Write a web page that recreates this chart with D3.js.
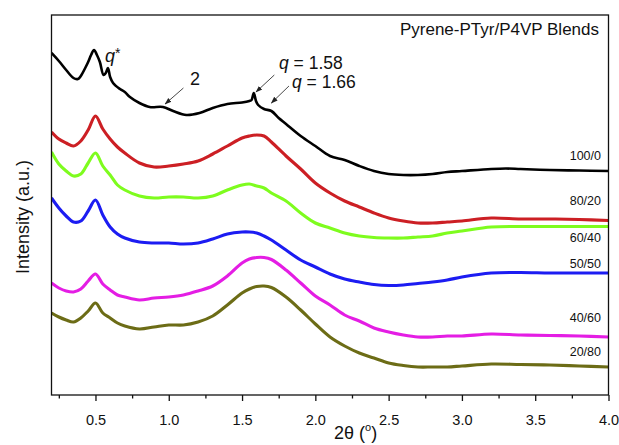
<!DOCTYPE html>
<html>
<head>
<meta charset="utf-8">
<script src="https://cdn.jsdelivr.net/npm/d3@7/dist/d3.min.js"></script>
<style>
  html, body { margin: 0; padding: 0; background: #fff; }
  svg { display: block; font-family: "Liberation Sans", Arial, Helvetica, sans-serif; }
</style>
</head>
<body>
<svg id="chart" width="619" height="445"></svg>
<script>
// 2θ grid (degrees) shared by the blend curves
const twoTheta = [0.20,0.25,0.30,0.35,0.40,0.45,0.50,0.55,0.60,0.65,0.70,0.80,0.90,1.00,1.10,1.20,1.30,1.40,1.50,1.55,1.60,1.65,1.70,1.80,1.90,2.00,2.10,2.20,2.30,2.40,2.50,2.60,2.70,2.80,2.90,3.00,3.20,3.40,3.60,3.80,4.00];

// Offset SAXS intensities (a.u.) for each Pyrene-PTyr/P4VP composition
const i80_20 = [263,256,252,249,254,265,279,266,256,248,242,232,228,229,231,234,241,249,257,259,260,259,253,239,226,212,202,194,188,182,177,174,172,172,173,174,177,176,176,175.5,174.5];
const i60_40 = [243,231,224,219,221,232,242,229,220,210,205,199,197,198,198,197,199,205,210,211,209,207,202,194,182,172,167,162,159,157.5,157,157,158,159,162,164,168,168.5,168.5,168.5,168.5];
const i50_50 = [197,187,179,173,174,184,195,180,168,161,157,153,152,152,151,152,156,161,163,163,162,159,155,145,135,128,121,116,113,110.5,109.5,110,111.5,113,115,118,122,122.5,122,122,122];
const i40_60 = [112,107,104,103,106,114,121,111,105,100,98,95,97,98,100,104,109,119,132,136,137.5,137.5,135.5,125,112,99,90,80,74,67,63,60,58,58,59,59,61,60,59.5,59,58];
const i20_80 = [82,78,75,73,77,84,92,82,77,72,69,66,68,70,70,73,79,90,102,106,108.5,109,107.5,98,85,71,58,49,42,37,32,29.5,28,28,28,29,31,30.5,30,29,28];

// Pure Pyrene-PTyr (100/0) is sampled more finely around its sharp reflections
const twoThetaPure = [0.20,0.25,0.30,0.35,0.38,0.40,0.43,0.45,0.47,0.49,0.51,0.53,0.555,0.57,0.585,0.60,0.62,0.667,0.70,0.735,0.80,0.87,0.96,1.03,1.12,1.21,1.30,1.40,1.50,1.55,1.565,1.58,1.595,1.61,1.65,1.70,1.75,1.80,1.90,2.00,2.10,2.20,2.30,2.40,2.50,2.60,2.70,2.80,2.90,3.00,3.20,3.30,3.40,3.60,3.80,4.00];
const i100_0 = [342,334,325,317,316,319,327,333,340,345,340,333,320,322,327,318,312,306,303,298,292,288,288,284,280,282,287,291,292.5,294,295,302,294,290,286,284,277,271,259,249,239,235,229,224,221,220,220,221,223,224,226,226.5,226,225,224.5,224];

const seriesNames = ["100/0","80/20","60/40","50/50","40/60","20/80"];
const seriesColors = ["#000000","#cc1f24","#7efc1e","#1c1cf2","#e41de4","#6c6c16"];
const seriesX = [twoThetaPure, twoTheta, twoTheta, twoTheta, twoTheta, twoTheta];
const seriesY = [i100_0, i80_20, i60_40, i50_50, i40_60, i20_80];
// label anchor intensity (a.u.) near the right edge for each curve
const labelLevels = [235, 190, 153, 127, 73, 39];

const xTicks = [0.5,1.0,1.5,2.0,2.5,3.0,3.5,4.0];
const xMinorTicks = [0.25,0.75,1.25,1.75,2.25,2.75,3.25,3.75];

const svg = d3.select("#chart");
const M = { left: 51.5, right: 608.5, top: 15, bottom: 395 };

const x = d3.scaleLinear().domain([0.2, 4.0]).range([M.left, M.right]);
const y = d3.scaleLinear().domain([0, 380]).range([M.bottom, M.top]);

const defs = svg.append("defs");
defs.append("clipPath").attr("id", "plotClip")
  .append("rect").attr("x", M.left).attr("y", M.top)
  .attr("width", M.right - M.left).attr("height", M.bottom - M.top);

defs.append("marker").attr("id", "arrowHead")
  .attr("viewBox", "0 0 10 10").attr("refX", 9).attr("refY", 5)
  .attr("markerWidth", 7).attr("markerHeight", 7).attr("orient", "auto")
  .attr("markerUnits", "userSpaceOnUse")
  .append("path").attr("d", "M0,1.5 L10,5 L0,8.5 Z").attr("fill", "#222");

// curves
const line = d3.line().curve(d3.curveCatmullRom.alpha(0.5));
const plot = svg.append("g").attr("clip-path", "url(#plotClip)");
seriesNames.forEach((name, k) => {
  const pts = seriesX[k].map((v, i) => [x(v), y(seriesY[k][i])]);
  plot.append("path")
    .attr("d", line(pts))
    .attr("fill", "none")
    .attr("stroke", seriesColors[k])
    .attr("stroke-width", k === 0 ? 2.6 : 3.1)
    .attr("stroke-linejoin", "round");
});

// composition labels
svg.append("g").selectAll("text").data(seriesNames).join("text")
  .attr("x", 601).attr("y", (d, i) => y(labelLevels[i]))
  .attr("text-anchor", "end").attr("font-size", 12.5).attr("fill", "#111")
  .text(d => d);

// frame
svg.append("rect").attr("x", M.left).attr("y", M.top)
  .attr("width", M.right - M.left).attr("height", M.bottom - M.top)
  .attr("fill", "none").attr("stroke", "#111").attr("stroke-width", 1.3);

// bottom axis: major and minor ticks
const xAxis = svg.append("g").attr("transform", `translate(0,${M.bottom})`)
  .call(d3.axisBottom(x).tickValues(xTicks).tickFormat(d3.format(".1f")).tickSize(6).tickPadding(14));
xAxis.select(".domain").remove();
xAxis.selectAll("line").attr("stroke", "#111").attr("stroke-width", 1.3);
xAxis.selectAll("text").attr("font-size", 14.5).attr("fill", "#111")
  .attr("font-family", "'Liberation Sans', Arial, sans-serif");
const xMinor = svg.append("g").attr("transform", `translate(0,${M.bottom})`)
  .call(d3.axisBottom(x).tickValues(xMinorTicks).tickFormat("").tickSize(3.5));
xMinor.select(".domain").remove();
xMinor.selectAll("line").attr("stroke", "#111").attr("stroke-width", 1.3);

// axis titles
const xTitle = svg.append("text").attr("x", 334).attr("y", 439)
  .attr("font-size", 18).attr("fill", "#111");
xTitle.append("tspan").text("2θ (");
xTitle.append("tspan").attr("font-size", 11).attr("dy", -8).text("o");
xTitle.append("tspan").attr("dy", 8).text(")");

svg.append("text")
  .attr("transform", "translate(29,217) rotate(-90)")
  .attr("text-anchor", "middle").attr("font-size", 18).attr("fill", "#111")
  .text("Intensity (a.u.)");

// title inside the frame
svg.append("text").attr("x", 599).attr("y", 35).attr("text-anchor", "end")
  .attr("font-size", 17).attr("fill", "#111").text("Pyrene-PTyr/P4VP Blends");

// peak annotations
const qStar = svg.append("text").attr("x", 105).attr("y", 62).attr("font-size", 18).attr("fill", "#111");
qStar.append("tspan").attr("font-style", "italic").text("q");
qStar.append("tspan").attr("font-size", 14).attr("dy", -4).text("*");

svg.append("text").attr("x", 190).attr("y", 85).attr("font-size", 18).attr("fill", "#111").text("2");

const q158 = svg.append("text").attr("x", 279).attr("y", 69).attr("font-size", 17.5).attr("fill", "#111");
q158.append("tspan").attr("font-style", "italic").text("q");
q158.append("tspan").text(" = 1.58");

const q166 = svg.append("text").attr("x", 292).attr("y", 88).attr("font-size", 17.5).attr("fill", "#111");
q166.append("tspan").attr("font-style", "italic").text("q");
q166.append("tspan").text(" = 1.66");

// arrows pointing at the reflections
const arrows = [
  { from: [1.10, 307], to: [0.975, 291] },
  { from: [1.72, 320], to: [1.595, 303] },
  { from: [1.82, 309], to: [1.70, 292] }
];
svg.append("g").selectAll("line").data(arrows).join("line")
  .attr("x1", d => x(d.from[0])).attr("y1", d => y(d.from[1]))
  .attr("x2", d => x(d.to[0])).attr("y2", d => y(d.to[1]))
  .attr("stroke", "#333").attr("stroke-width", 0.9)
  .attr("marker-end", "url(#arrowHead)");
</script>
</body>
</html>
